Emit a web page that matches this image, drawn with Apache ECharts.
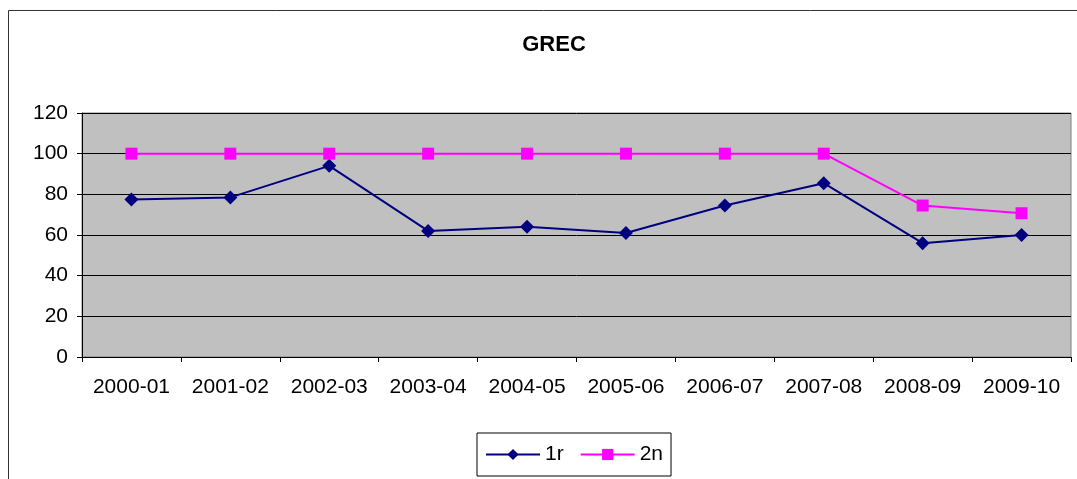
<!DOCTYPE html>
<html>
<head>
<meta charset="utf-8">
<script src="https://cdn.jsdelivr.net/npm/echarts@6/dist/echarts.min.js"></script>
<style>
   html, body { margin: 0; padding: 0; background: #fff; }
   #chart { width: 1077px; height: 479px; }
</style>
</head>
<body>
<div id="chart"></div>
<script>
const years = ["2000-01", "2001-02", "2002-03", "2003-04", "2004-05", "2005-06", "2006-07", "2007-08", "2008-09", "2009-10"];
const first = [77.5, 78.5, 94, 62, 64, 61, 74.5, 85.5, 56, 60];
const second = [100, 100, 100, 100, 100, 100, 100, 100, 74.5, 70.7];

const chart = echarts.init(document.getElementById("chart"));

const font = "Liberation Sans, Arial, sans-serif";

chart.setOption({
   animation: false,
   textStyle: { fontFamily: font },
   graphic: [
      {
         type: "rect",
         shape: { x: 8.5, y: 10.5, width: 1070, height: 480 },
         style: { fill: "none", stroke: "#333", lineWidth: 1 },
         silent: true,
      },
   ],
   title: {
      text: "GREC",
      left: 549,
      top: 29,
      textAlign: "center",
      textStyle: { fontFamily: font, fontSize: 22, fontWeight: "bold", color: "#000" },
   },
   grid: {
      left: 82,
      right: 6,
      top: 113,
      bottom: 122,
      show: true,
      backgroundColor: "#c0c0c0",
      borderColor: "#808080",
      borderWidth: 1,
   },
   legend: {
      left: 477,
      top: 433,
      itemGap: 16,
      itemWidth: 54,
      itemHeight: 14,
      padding: [11, 8, 11, 8],
      borderColor: "#000",
      borderWidth: 1,
      backgroundColor: "#fff",
      textStyle: { fontFamily: font, fontSize: 21, color: "#000" },
      data: ["1r", "2n"],
   },
   xAxis: {
      type: "category",
      data: years,
      boundaryGap: true,
      axisLine: { lineStyle: { color: "#000" } },
      axisTick: { show: true, interval: 0, length: 5, lineStyle: { color: "#000" } },
      axisLabel: { color: "#000", fontSize: 21, margin: 20, interval: 0, fontFamily: font },
   },
   yAxis: {
      type: "value",
      min: 0,
      max: 120,
      interval: 20,
      axisLine: { show: true, lineStyle: { color: "#000" } },
      axisTick: { show: true, length: 5, lineStyle: { color: "#000" } },
      axisLabel: { color: "#000", fontSize: 21, margin: 14, fontFamily: font },
      splitLine: { show: true, lineStyle: { color: "#000", width: 1 } },
   },
   series: [
      {
         name: "1r",
         type: "line",
         data: first,
         symbol: "diamond",
         symbolSize: 14,
         color: "#000080",
         lineStyle: { color: "#000080", width: 2 },
         itemStyle: { color: "#000080" },
      },
      {
         name: "2n",
         type: "line",
         data: second,
         symbol: "rect",
         symbolSize: 12,
         color: "#ff00ff",
         lineStyle: { color: "#ff00ff", width: 2 },
         itemStyle: { color: "#ff00ff" },
      },
   ],
});
</script>
</body>
</html>
